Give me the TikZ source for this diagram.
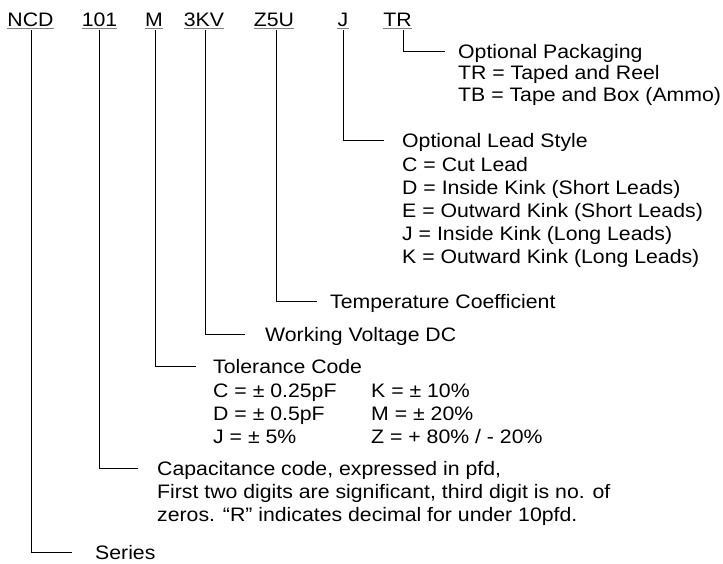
\documentclass[tikz,border=0pt]{standalone}
\usepackage{fontspec}
\setmainfont{Liberation Sans}[FakeStretch=1.09]
\usetikzlibrary{positioning}

\begin{document}
\begin{tikzpicture}[
    x=1pt, y=-1pt,
    font=\fontsize{19.5}{23}\selectfont,
    code/.style={inner sep=0pt, text height=14pt, text depth=4pt, anchor=base},
    uline/.style={draw=gray, line width=1.2pt},
    lead/.style={draw=black, line width=1pt},
    title/.style={inner sep=0pt, text height=14pt, text depth=0pt},
    body/.style={inner sep=0pt, align=left}]

  \useasboundingbox (0,0) rectangle (723,563);

  % ── Part number ──
  \node[code] (ncd) at (30.5,26) {NCD};
  \node[code] (num) at (99.5,26) {101};
  \node[code] (tol) at (154,26)  {M};
  \node[code] (wv)  at (204,26)  {3KV};
  \node[code] (tc)  at (274,26)  {Z5U};
  \node[code] (ls)  at (343,26)  {J};
  \node[code] (pk)  at (397.5,26) {TR};

  \foreach \n in {ncd,num,tol,wv,tc,ls,pk}
    \draw[uline] ([yshift=2pt]\n.south west) -- ([yshift=2pt]\n.south east);

  % ── Knees ──
  \coordinate (pk-k)  at (403,51.7);
  \coordinate (ls-k)  at (343.5,140);
  \coordinate (tc-k)  at (276.7,301.7);
  \coordinate (wv-k)  at (205,334);
  \coordinate (tol-k) at (155.4,366.7);
  \coordinate (num-k) at (99,468.3);
  \coordinate (ncd-k) at (31.7,552.7);

  % ── Packaging ──
  \node[title, right=55pt of pk-k] (pk-t) {Optional Packaging};
  \node[body, font=\fontsize{19.5}{22}\selectfont,
        below right=6pt and 0pt of pk-t.south west] (pk-b)
    {TR = Taped and Reel\\TB = Tape and Box (Ammo)};

  % ── Lead style ──
  \node[title, right=58.5pt of ls-k] (ls-t) {Optional Lead Style};
  \node[body, below right=9.5pt and 0pt of ls-t.south west] (ls-b)
    {C = Cut Lead\\D = Inside Kink (Short Leads)\\E = Outward Kink (Short Leads)\\
     J = Inside Kink (Long Leads)\\K = Outward Kink (Long Leads)};

  % ── Temperature, voltage ──
  \node[title, right=53.3pt of tc-k] (tc-t) {Temperature Coefficient};
  \node[title, right=60pt of wv-k] (wv-t) {Working Voltage DC};

  % ── Tolerance ──
  \node[title, right=57.6pt of tol-k] (tol-t) {Tolerance Code};
  \node[body, below right=10pt and 0pt of tol-t.south west] (tol-b)
    {C = ± 0.25pF\\D = ± 0.5pF\\J = ± 5\%};
  \node[body, anchor=north west] (tol-r) at ([xshift=158pt]tol-b.north west)
    {K = ± 10\%\\M = ± 20\%\\Z = + 80\% / - 20\%};

  % ── Capacitance ──
  \node[title, right=58pt of num-k] (num-t) {Capacitance code, expressed in pfd,};
  \node[body, below right=8.5pt and 0pt of num-t.south west] (num-b)
    {First two digits are significant, third digit is no. of\\
     zeros. “R” indicates decimal for under 10pfd.};

  % ── Series ──
  \node[title, right=63.3pt of ncd-k] (ncd-t) {Series};

  % ── Leaders ──
  \draw[lead] (pk.south -| pk-k) -- (pk-k) -- ([xshift=-13pt]pk-t.west);
  \draw[lead] (ls.south -| ls-k) -- (ls-k) -- ([xshift=-18.5pt]ls-t.west);
  \draw[lead] (tc.south -| tc-k) -- (tc-k) -- ([xshift=-13pt]tc-t.west);
  \draw[lead] (wv.south -| wv-k) -- (wv-k) -- ([xshift=-20.5pt]wv-t.west);
  \draw[lead] (tol.south -| tol-k) -- (tol-k) -- ([xshift=-17pt]tol-t.west);
  \draw[lead] (num.south -| num-k) -- (num-k) -- ([xshift=-19pt]num-t.west);
  \draw[lead] (ncd.south -| ncd-k) -- (ncd-k) -- ([xshift=-23pt]ncd-t.west);

\end{tikzpicture}
\end{document}
